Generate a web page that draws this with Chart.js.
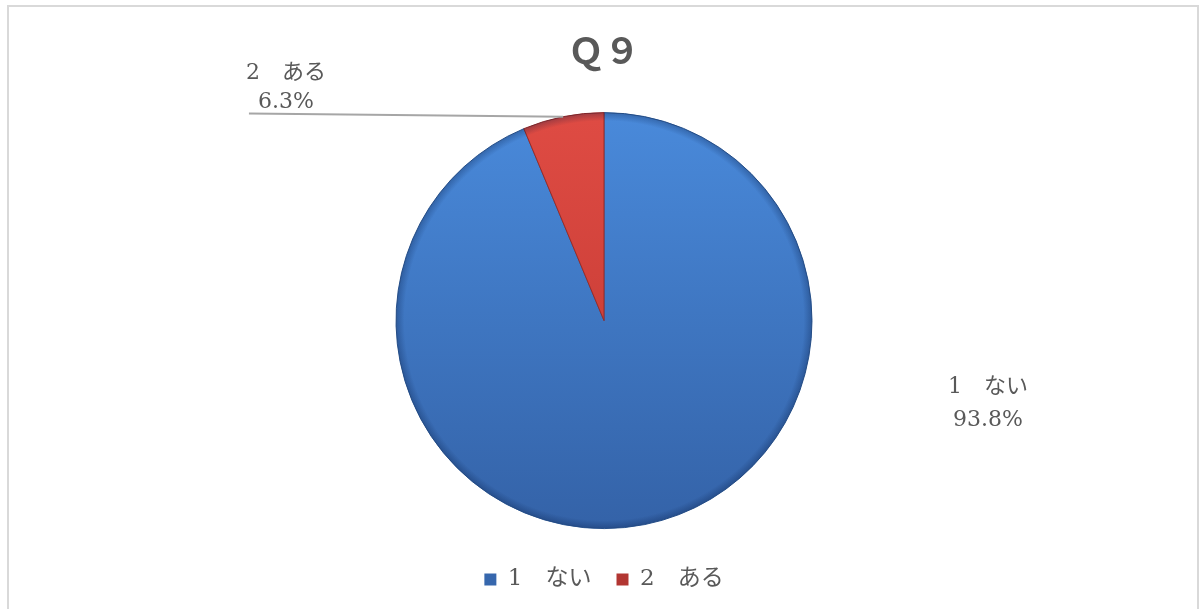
<!DOCTYPE html>
<html>
<head>
<meta charset="utf-8">
<title>Q9</title>
<script src="https://cdn.jsdelivr.net/npm/chart.js@4"></script>
<style>
  body { margin: 0; background: #fff; }
</style>
</head>
<body>
<canvas id="mygraph" width="1202" height="609"></canvas>
<script>
// answers and their share (%)
const labels = ["1　ない", "2　ある"];
const values = [93.8, 6.3];
const chartTitle = "Ｑ９";

const FONT = "'DejaVu Serif', 'Noto Sans CJK JP', serif";
const TEXT = "#595959";

// top/bottom colours of the slice gradients, and flat colours for the legend boxes
const sliceTop = ["#4a8bdc", "#e04c44"];
const sliceBottom = ["#3361a6", "#bc352f"];
const sliceEdge = ["#2e5a96", "#9b2b27"];
const legendBox = ["#3667ad", "#b23632"];

function sliceFill(c) {
  const i = c.dataIndex;
  const area = c.chart.chartArea;
  if (!area) return sliceBottom[i];
  const g = c.chart.ctx.createLinearGradient(0, area.top, 0, area.bottom);
  g.addColorStop(0, sliceTop[i]);
  g.addColorStop(1, sliceBottom[i]);
  return g;
}

// light grey frame round the whole chart
const framePlugin = {
  id: 'frame',
  beforeDraw(chart) {
    const ctx = chart.ctx;
    ctx.save();
    ctx.fillStyle = '#fff';
    ctx.fillRect(0, 0, chart.width, chart.height);
    ctx.strokeStyle = '#d9d9d9';
    ctx.lineWidth = 2;
    ctx.strokeRect(8, 6, chart.width - 12, chart.height + 10);
    ctx.restore();
  }
};

// darker rim on the pie, then the category / percent labels
const labelPlugin = {
  id: 'sliceLabels',
  afterDatasetsDraw(chart) {
    const ctx = chart.ctx;
    const arcs = chart.getDatasetMeta(0).data;
    const cx = arcs[0].x, cy = arcs[0].y, r = arcs[0].outerRadius;
    const pct = values.map(v => v.toFixed(1) + "%");

    ctx.save();
    const rim = ctx.createRadialGradient(cx, cy, r * 0.96, cx, cy, r);
    rim.addColorStop(0, 'rgba(0,20,60,0)');
    rim.addColorStop(1, 'rgba(0,20,60,0.28)');
    ctx.beginPath();
    ctx.arc(cx, cy, r, 0, Math.PI * 2);
    ctx.fillStyle = rim;
    ctx.fill();

    ctx.font = "22px " + FONT;
    ctx.fillStyle = TEXT;
    ctx.textAlign = 'center';
    ctx.textBaseline = 'middle';

    // big slice: label sits to the right of the pie
    let lx = cx + r * 1.846, ly = cy + r * 0.397;
    ctx.fillText(labels[0], lx, ly - 16);
    ctx.fillText(pct[0], lx, ly + 17);

    // small slice: label up-left with a leader line
    const b = arcs[1];
    lx = cx - r * 1.529; ly = cy - r * 1.118;
    ctx.fillText(labels[1], lx, ly - 14.5);
    ctx.fillText(pct[1], lx, ly + 14.5);

    const mid = (b.startAngle + b.endAngle) / 2;
    ctx.strokeStyle = '#a6a6a6';
    ctx.lineWidth = 2;
    ctx.beginPath();
    ctx.moveTo(cx - r * 1.707, ly + 25.5);
    ctx.lineTo(cx + r * Math.cos(mid), cy + r * Math.sin(mid));
    ctx.stroke();
    ctx.restore();
  }
};

const data = {
  labels: labels,
  datasets: [{
    data: values,
    backgroundColor: sliceFill,
    borderColor: sliceEdge,
    borderWidth: 1
  }]
};

const config = {
  type: 'pie',
  data,
  options: {
    responsive: false,
    animation: false,
    radius: 208,
    layout: { padding: { top: 0, bottom: 8, left: 6 } },
    plugins: {
      title: {
        display: true,
        text: chartTitle,
        color: TEXT,
        font: { family: FONT, size: 36, weight: 'bold' },
        padding: { top: 33, bottom: 22 }
      },
      legend: {
        position: 'bottom',
        labels: {
          color: TEXT,
          font: { family: FONT, size: 23 },
          boxWidth: 12,
          boxHeight: 12,
          padding: 25,
          generateLabels: () => labels.map((t, i) => ({
            text: t,
            fillStyle: legendBox[i],
            strokeStyle: legendBox[i],
            lineWidth: 0,
            fontColor: TEXT,
            hidden: false,
            index: i
          }))
        }
      },
      tooltip: { enabled: false }
    }
  },
  plugins: [framePlugin, labelPlugin]
};

const mygraph = new Chart(document.getElementById('mygraph'), config);
</script>
</body>
</html>
